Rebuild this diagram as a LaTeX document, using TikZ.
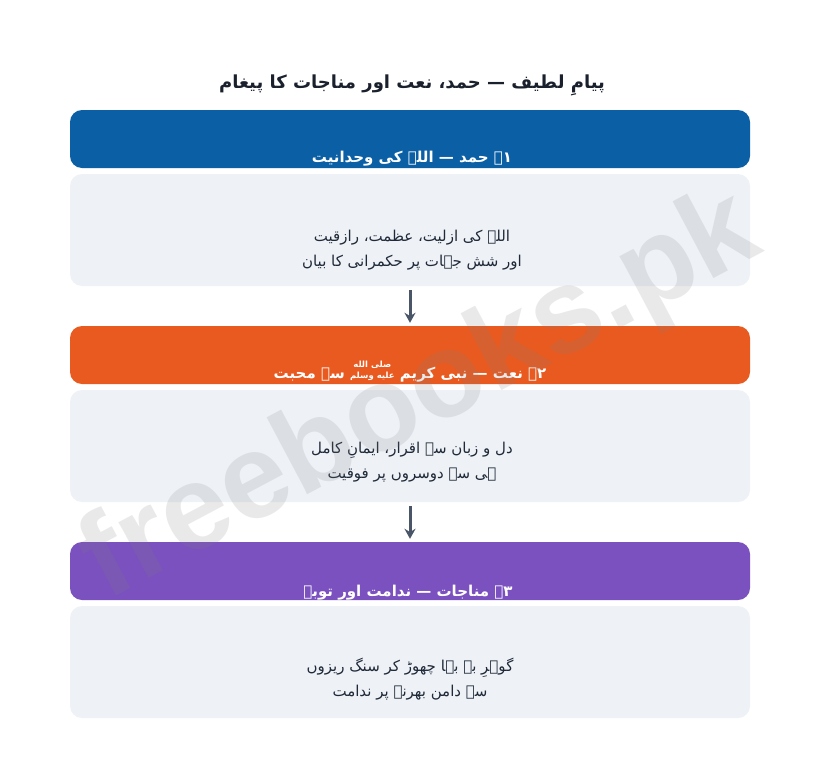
\documentclass[tikz,border=0pt]{standalone}
\usepackage{fontspec}
\setmainfont{DejaVu Sans}
\newfontfamily\urdu[Script=Arabic]{DejaVu Sans}
\newfontfamily\wmfont{Liberation Sans}
\TeXXeTstate=1
\usetikzlibrary{arrows.meta}
\definecolor{hblue}{HTML}{0B5FA5}
\definecolor{horange}{HTML}{E85A20}
\definecolor{hpurple}{HTML}{7B50BF}
\definecolor{bodygray}{HTML}{EEF2F7}
\definecolor{bodytext}{HTML}{1F2937}
\definecolor{titletext}{HTML}{1A202C}
\definecolor{arrowgray}{HTML}{4A5568}
\newcommand{\salla}{\raisebox{0pt}{\fontsize{8.5}{10}\selectfont\shortstack{\beginR صلى الله\endR\\\beginR عليه وسلم\endR}}}
\tikzset{
  headbox/.style={rectangle, rounded corners=12pt, minimum width=680pt, minimum height=58pt, inner sep=0pt, draw=none},
  bodybox/.style={rectangle, rounded corners=12pt, minimum width=680pt, minimum height=112pt, inner sep=0pt, fill=bodygray, draw=none},
  headtext/.style={anchor=base, text=white, inner sep=0pt, font=\urdu\bfseries\fontsize{15}{18}\selectfont},
  bodytxt/.style={align=center, text=bodytext, inner sep=0pt, font=\urdu\fontsize{15}{25}\selectfont},
  flowarrow/.style={draw=arrowgray, line width=3pt, -{Stealth[length=10pt,width=11pt]}, shorten <=4pt, shorten >=3pt}
}
\begin{document}
\begin{tikzpicture}[x=1pt,y=-1pt]
\useasboundingbox (0,0) rectangle (820,758);
\fill[white] (0,0) rectangle (820,758);

\node[anchor=base, text=titletext, inner sep=0pt, font=\urdu\bfseries\fontsize{18}{22}\selectfont] (title) at (412,88)
  {\beginR پیامِ لطیف — حمد، نعت اور مناجات کا پیغام\endR};

\node[headbox, fill=hblue] (h1) at (410,139) {};
\node[bodybox] (b1) at (410,230) {};
\node[headbox, fill=horange] (h2) at (410,355) {};
\node[bodybox] (b2) at (410,446) {};
\node[headbox, fill=hpurple] (h3) at (410,571) {};
\node[bodybox] (b3) at (410,662) {};

\begin{scope}
\clip[rounded corners=12pt] (h1.south west) rectangle (h1.north east);
\node[headtext] (t1) at (412,162) {\beginR ۱۔ حمد — اللہ کی وحدانیت\endR};
\end{scope}
\begin{scope}
\clip[rounded corners=12pt] (h2.south west) rectangle (h2.north east);
\node[headtext] (t2) at (410,378) {\beginR ۲۔ نعت — نبی کریم \salla{} سے محبت\endR};
\end{scope}
\begin{scope}
\clip[rounded corners=12pt] (h3.south west) rectangle (h3.north east);
\node[headtext] (t3) at (408,596) {\beginR ۳۔ مناجات — ندامت اور توبہ\endR};
\end{scope}

\node[bodytxt] (s1) at (412,250) {\beginR اللہ کی ازلیت، عظمت، رازقیت\endR\\\beginR اور شش جہات پر حکمرانی کا بیان\endR};
\node[bodytxt] (s2) at (412,462) {\beginR دل و زبان سے اقرار، ایمانِ کامل\endR\\\beginR ہی سے دوسروں پر فوقیت\endR};
\node[bodytxt] (s3) at (410,679) {\beginR گوہرِ بے بہا چھوڑ کر سنگ ریزوں\endR\\\beginR سے دامن بھرنے پر ندامت\endR};

\draw[flowarrow] (b1.south) -- (h2.north);
\draw[flowarrow] (b2.south) -- (h3.north);

\node[rotate=28, anchor=base, inner sep=0pt, text=gray, opacity=0.17, font=\wmfont\bfseries\fontsize{120}{120}\selectfont] (wm) at (436,426) {freebooks.pk};
\end{tikzpicture}
\end{document}
